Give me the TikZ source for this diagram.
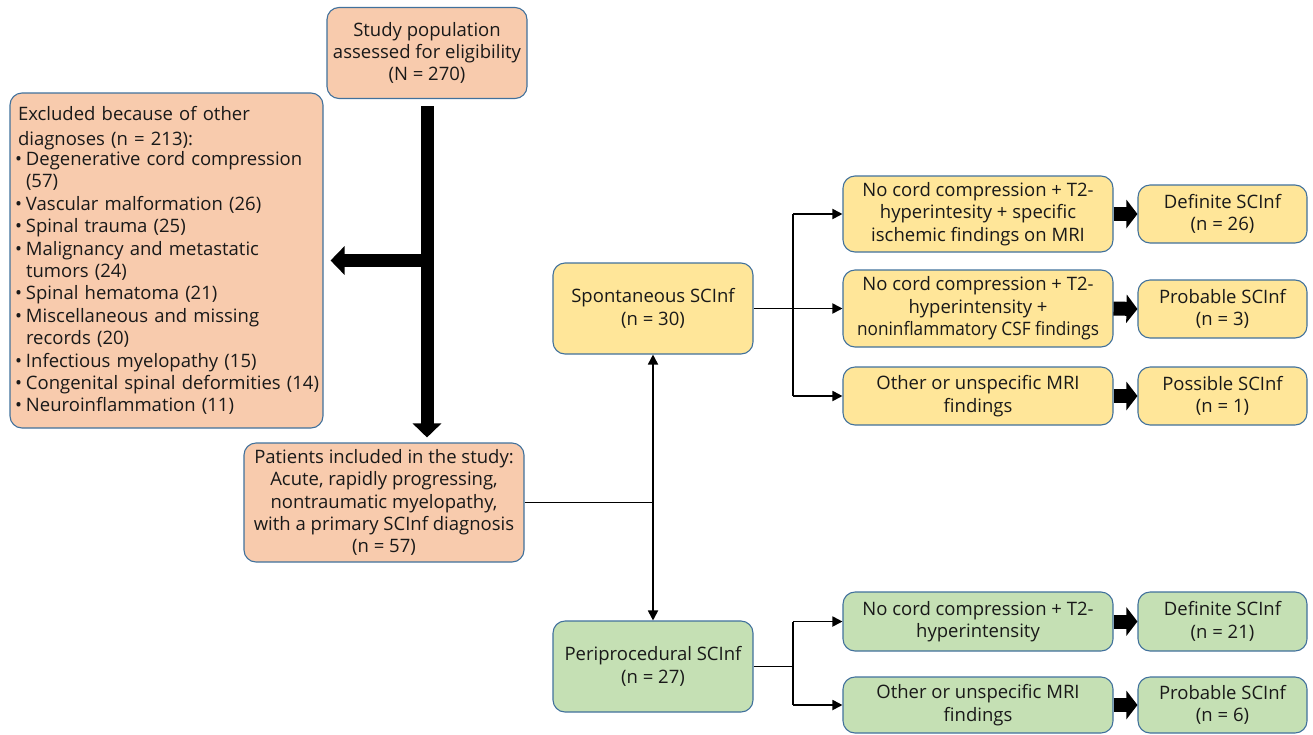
\documentclass[tikz,border=0pt]{standalone}
\usepackage{fontspec}
\usepackage{graphicx}
\setmainfont{Open Sans}
\usetikzlibrary{arrows.meta}
\definecolor{orfill}{HTML}{F8CBAD}
\definecolor{yefill}{HTML}{FFE699}
\definecolor{grfill}{HTML}{C5E0B4}
\definecolor{bord}{HTML}{41719C}
\newcommand\blt{\makebox[11pt][l]{•}}
\newcommand\cnt{\hspace*{11pt}}
\tikzset{
  box/.style={draw=bord, line width=1.1pt, rounded corners=12pt, inner sep=2pt, align=center,
    font=\fontsize{18.5}{22.4}\selectfont, text=black!90},
  thinarrow/.style={line width=1.8pt, -{Triangle[length=10pt,width=10pt]}},
  thinline/.style={line width=1.8pt},
  bigarrow/.style={line width=13pt, -{Triangle[length=14pt,width=28pt]}},
  blockarrow/.style={line width=14pt, -{Triangle[length=11pt,width=28pt]}},
}
\begin{document}
\begin{tikzpicture}[x=1pt,y=-1pt]
\useasboundingbox (0,0) rectangle (1313,734);
% left column
\node[box, fill=orfill, minimum width=200, minimum height=91] (st) at (427,53)
  {Study population\\assessed for eligibility\\(N = 270)};
\node[box, fill=orfill, minimum width=313, minimum height=335, text width=303, align=left, inner xsep=5pt] (ex) at (166.5,260.5)
  {\hspace*{3pt}Excluded because of other\\[2.6pt]
   \hspace*{3pt}diagnoses (n = 213):\\[-2.4pt]
   \blt Degenerative cord compression\\
   \cnt(57)\\
   \blt Vascular malformation (26)\\
   \blt Spinal trauma (25)\\
   \blt Malignancy and metastatic\\
   \cnt tumors (24)\\
   \blt Spinal hematoma (21)\\
   \blt Miscellaneous and missing\\
   \cnt records (20)\\
   \blt Infectious myelopathy (15)\\
   \blt \makebox[290pt][l]{Congenital spinal deformities (14)}\\
   \blt Neuroinflammation (11)};
\node[box, fill=orfill, minimum width=280, minimum height=119] (pt) at (384,502.5)
  {Patients included in the study:\\Acute, rapidly progressing,\\nontraumatic myelopathy,\\with a primary SCInf diagnosis\\(n = 57)};
% middle column
\node[box, fill=yefill, minimum width=200, minimum height=91] (sp) at (653,308.5)
  {Spontaneous SCInf\\(n = 30)};
\node[box, fill=grfill, minimum width=200, minimum height=91] (pp) at (653,666.5)
  {Periprocedural SCInf\\(n = 27)};
% criteria
\node[box, fill=yefill, minimum width=270, minimum height=76] (c1) at (978,214)
  {No cord compression + T2-\\hyperintesity + specific\\ischemic findings on MRI};
\node[box, fill=yefill, minimum width=270, minimum height=77] (c2) at (978,308.5)
  {No cord compression + T2-\\hyperintensity +\\\scalebox{0.93}[1]{noninflammatory CSF findings}};
\node[box, fill=yefill, minimum width=270, minimum height=58] (c3) at (978,396)
  {Other or unspecific MRI\\findings};
\node[box, fill=grfill, minimum width=270, minimum height=59] (pc1) at (978,621.5)
  {No cord compression + T2-\\hyperintensity};
\node[box, fill=grfill, minimum width=270, minimum height=56] (pc2) at (978,705)
  {Other or unspecific MRI\\findings};
% results
\node[box, fill=yefill, minimum width=169, minimum height=58] (r1) at (1222.5,214)
  {Definite SCInf\\(n = 26)};
\node[box, fill=yefill, minimum width=169, minimum height=58] (r2) at (1222.5,309)
  {Probable SCInf\\(n = 3)};
\node[box, fill=yefill, minimum width=169, minimum height=58] (r3) at (1222.5,396)
  {Possible SCInf\\(n = 1)};
\node[box, fill=grfill, minimum width=169, minimum height=59] (pr1) at (1222.5,621.5)
  {Definite SCInf\\(n = 21)};
\node[box, fill=grfill, minimum width=169, minimum height=56] (pr2) at (1222.5,705)
  {Probable SCInf\\(n = 6)};
% thick arrows on the left
\coordinate (tj) at (st.south |- ex.east);
\draw[bigarrow, shorten <=7pt, shorten >=5pt] (st.south) -- (st.south |- pt.north);
\draw[bigarrow, shorten >=7pt] (tj) -- (ex.east);
% central split
\coordinate (jc) at (sp.south |- pt.east);
\draw[thinline] (pt.east) -- (jc);
\draw[thinarrow] (jc) -- (sp.south);
\draw[thinarrow] (jc) -- (pp.north);
% spontaneous branches
\coordinate (bs) at (793,308.5);
\draw[thinline] (sp.east) -- (bs);
\draw[thinline] (bs |- c1.west) -- (bs |- c3.west);
\draw[thinarrow] (bs |- c1.west) -- (c1.west);
\draw[thinarrow] (bs |- c2.west) -- (c2.west);
\draw[thinarrow] (bs |- c3.west) -- (c3.west);
% periprocedural branches
\coordinate (bp) at (793,666.5);
\draw[thinline] (pp.east) -- (bp);
\draw[thinline] (bp |- pc1.west) -- (bp |- pc2.west);
\draw[thinarrow] (bp |- pc1.west) -- (pc1.west);
\draw[thinarrow] (bp |- pc2.west) -- (pc2.west);
% block arrows
\draw[blockarrow] (c1.east) -- (r1.west);
\draw[blockarrow] (c2.east) -- (r2.west);
\draw[blockarrow] (c3.east) -- (r3.west);
\draw[blockarrow] (pc1.east) -- (pr1.west);
\draw[blockarrow] (pc2.east) -- (pr2.west);
\end{tikzpicture}
\end{document}
